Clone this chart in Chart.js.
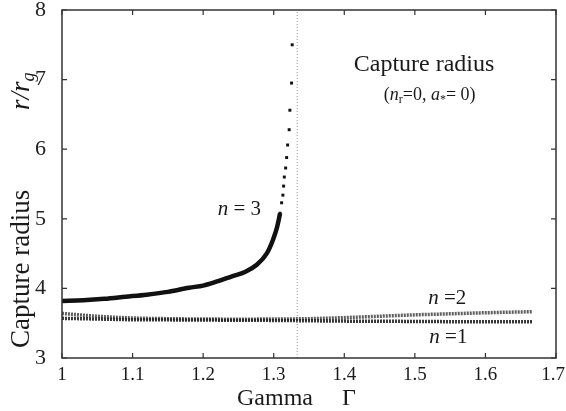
<!DOCTYPE html>
<html>
<head>
<meta charset="utf-8">
<script src="https://cdn.jsdelivr.net/npm/chart.js@4/dist/chart.umd.min.js"></script>
<style>
html,body{margin:0;padding:0;background:#fff;}
#c{display:block;}
</style>
</head>
<body>
<canvas id="c" width="566" height="411"></canvas>
<script>
// ---- data ----
const xTicks = [1.0, 1.1, 1.2, 1.3, 1.4, 1.5, 1.6, 1.7];
const xTickLabels = ['1', '1.1', '1.2', '1.3', '1.4', '1.5', '1.6', '1.7'];
const yTicks = [3, 4, 5, 6, 7, 8];
const yTickLabels = ['3', '4', '5', '6', '7', '8'];

const gammaN3 = [1.00, 1.03, 1.06, 1.09, 1.12, 1.15, 1.18, 1.20, 1.22, 1.24, 1.26, 1.276, 1.29, 1.299, 1.305, 1.309, 1.3112, 1.3130, 1.3140, 1.3150, 1.3169, 1.3183, 1.3197, 1.3219, 1.3229, 1.3253, 1.3262];
const radiusN3 = [3.82, 3.83, 3.85, 3.88, 3.91, 3.95, 4.01, 4.04, 4.10, 4.17, 4.24, 4.34, 4.50, 4.70, 4.89, 5.08, 5.23, 5.34, 5.47, 5.60, 5.73, 5.88, 6.06, 6.28, 6.56, 6.95, 7.50];

const gammaN12 = [1.00, 1.05, 1.10, 1.15, 1.20, 1.25, 1.30, 1.35, 1.40, 1.45, 1.50, 1.55, 1.60, 1.667];
const radiusN1 = [3.57, 3.56, 3.55, 3.548, 3.545, 3.543, 3.54, 3.535, 3.53, 3.528, 3.525, 3.522, 3.52, 3.52];
const radiusN2 = [3.64, 3.60, 3.575, 3.565, 3.56, 3.558, 3.56, 3.565, 3.58, 3.60, 3.62, 3.635, 3.65, 3.665];

const asymptoteGamma = 1.3333;
const yRange = [3, 8];
const xRange = [1, 1.7];

const labels = [
  {text: 'n = 3', x: 1.2514, y: 5.13},
  {text: 'n =2', x: 1.546, y: 3.86},
  {text: 'n =1', x: 1.5475, y: 3.30}
];

// ---- build datasets ----
const pts = (xs, ys) => xs.map((x, i) => ({x: x, y: ys[i]}));
const SERIF = "'Liberation Serif', 'DejaVu Serif', serif";

const decor = {
  id: 'decor',
  afterDraw(chart) {
    const ctx = chart.ctx, a = chart.chartArea;
    const xs = chart.scales.x, ys = chart.scales.y;
    ctx.save();
    // box
    ctx.strokeStyle = '#333';
    ctx.lineWidth = 1.5;
    ctx.strokeRect(a.left, a.top, a.right - a.left, a.bottom - a.top);
    // inward ticks
    ctx.lineWidth = 1.2;
    ctx.beginPath();
    xTicks.forEach(v => {
      const p = xs.getPixelForValue(v);
      ctx.moveTo(p, a.bottom); ctx.lineTo(p, a.bottom - 5);
      ctx.moveTo(p, a.top); ctx.lineTo(p, a.top + 5);
    });
    yTicks.forEach(v => {
      const p = ys.getPixelForValue(v);
      ctx.moveTo(a.left, p); ctx.lineTo(a.left + 5, p);
      ctx.moveTo(a.right, p); ctx.lineTo(a.right - 5, p);
    });
    ctx.stroke();

    ctx.fillStyle = '#1a1a1a';
    // x tick labels (kept inside the canvas)
    ctx.font = '19px ' + SERIF;
    ctx.textBaseline = 'top';
    ctx.textAlign = 'left';
    xTicks.forEach((v, i) => {
      const t = xTickLabels[i];
      const w = ctx.measureText(t).width;
      let x = xs.getPixelForValue(v) - w / 2;
      x = Math.min(x, chart.width - 1 - w);
      x = Math.max(x, 0);
      ctx.fillText(t, x, a.bottom + 8);
    });

    ctx.textBaseline = 'middle';
    // annotation: Capture radius
    ctx.font = '24px ' + SERIF;
    ctx.textAlign = 'center';
    ctx.fillText('Capture radius', xs.getPixelForValue(1.513), ys.getPixelForValue(7.21));
    // subtitle (n_r=0, a_*= 0)
    {
      const cx = xs.getPixelForValue(1.521), cy = ys.getPixelForValue(6.78);
      const parts = [
        {t: '(', f: '18px ' + SERIF, dy: 0},
        {t: 'n', f: 'italic 18px ' + SERIF, dy: 0},
        {t: 'r', f: '12px ' + SERIF, dy: 5},
        {t: '=0, ', f: '18px ' + SERIF, dy: 0},
        {t: 'a', f: 'italic 18px ' + SERIF, dy: 0},
        {t: '*', f: '12px ' + SERIF, dy: 5},
        {t: '= 0)', f: '18px ' + SERIF, dy: 0}
      ];
      let w = 0;
      parts.forEach(p => { ctx.font = p.f; p.w = ctx.measureText(p.t).width; w += p.w; });
      let x = cx - w / 2;
      ctx.textAlign = 'left';
      parts.forEach(p => { ctx.font = p.f; ctx.fillText(p.t, x, cy + p.dy); x += p.w; });
    }
    // curve labels
    labels.forEach(l => {
      const cx = xs.getPixelForValue(l.x), cy = ys.getPixelForValue(l.y);
      const n = 'n', rest = l.text.slice(1);
      ctx.font = 'italic 21px ' + SERIF;
      const w1 = ctx.measureText(n).width;
      ctx.font = '21px ' + SERIF;
      const w2 = ctx.measureText(rest).width;
      let x = cx - (w1 + w2) / 2;
      ctx.textAlign = 'left';
      ctx.font = 'italic 21px ' + SERIF;
      ctx.fillText(n, x, cy);
      ctx.font = '21px ' + SERIF;
      ctx.fillText(rest, x + w1, cy);
    });
    // x axis title
    ctx.font = '24px ' + SERIF;
    ctx.textAlign = 'left';
    ctx.fillText('Gamma', 237, 399);
    ctx.fillText('\u0393', 342, 399);
    // y axis title (rotated)
    ctx.translate(22, 348);
    ctx.rotate(-Math.PI / 2);
    ctx.font = '27px ' + SERIF;
    ctx.textAlign = 'left';
    ctx.fillText('Capture radius', 0, 0);
    let x = 238;
    ctx.font = 'italic 27px ' + SERIF;
    ctx.fillText('r/r', x, 0);
    x += ctx.measureText('r/r').width;
    ctx.font = 'italic 18px ' + SERIF;
    ctx.fillText('g', x, 7);
    ctx.restore();
  }
};

new Chart(document.getElementById('c'), {
  type: 'scatter',
  data: {
    datasets: [
      {
        label: 'asymptote',
        data: [{x: asymptoteGamma, y: yRange[0]}, {x: asymptoteGamma, y: yRange[1]}],
        showLine: true, borderColor: '#9a9a9a', borderWidth: 1, borderDash: [1, 2],
        pointRadius: 0
      },
      {
        label: 'n=1',
        data: pts(gammaN12, radiusN1),
        showLine: true, borderColor: 'rgba(35,35,35,0.9)', borderWidth: 3.5,
        borderDash: [2, 1], cubicInterpolationMode: 'monotone', pointRadius: 0
      },
      {
        label: 'n=2',
        data: pts(gammaN12, radiusN2),
        showLine: true, borderColor: 'rgba(55,55,55,0.8)', borderWidth: 3.5,
        borderDash: [2, 1], cubicInterpolationMode: 'monotone', pointRadius: 0
      },
      {
        label: 'n=3',
        data: pts(gammaN3, radiusN3),
        showLine: true, borderColor: '#111', borderWidth: 4.5,
        cubicInterpolationMode: 'monotone',
        segment: {
          borderColor: c => (c.p0.parsed.y >= 5.0 ? 'rgba(0,0,0,0)' : '#111')
        },
        pointStyle: 'rect',
        pointRadius: c => (c.raw && c.raw.y > 4.85 ? 2.1 : 0),
        pointBackgroundColor: '#111', pointBorderWidth: 0
      }
    ]
  },
  options: {
    responsive: false,
    animation: false,
    devicePixelRatio: 1,
    layout: {padding: {top: 10, right: 10, left: 0, bottom: 0}},
    plugins: {legend: {display: false}, tooltip: {enabled: false}},
    scales: {
      x: {
        type: 'linear', min: xRange[0], max: xRange[1],
        afterBuildTicks: s => { s.ticks = xTicks.map(v => ({value: v})); },
        afterFit: s => { s.height = 53; s.paddingLeft = 0; s.paddingRight = 0; },
        ticks: {display: false},
        grid: {display: false}, border: {display: false}
      },
      y: {
        type: 'linear', min: yRange[0], max: yRange[1],
        afterBuildTicks: s => { s.ticks = yTicks.map(v => ({value: v})); },
        afterFit: s => { s.width = 62; s.paddingTop = 0; s.paddingBottom = 0; },
        ticks: {
          callback: (v, i) => yTickLabels[i],
          font: {family: SERIF, size: 22}, color: '#222', padding: 8
        },
        grid: {display: false}, border: {display: false}
      }
    }
  },
  plugins: [decor]
});
</script>
</body>
</html>
